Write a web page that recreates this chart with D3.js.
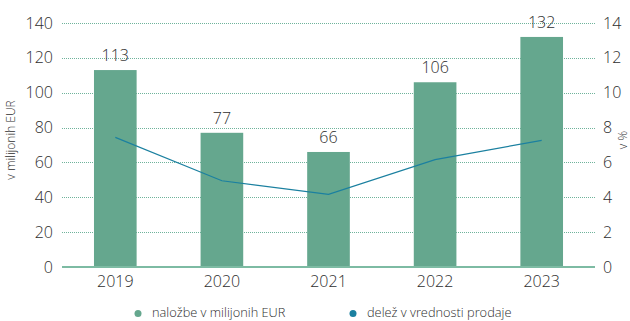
<!DOCTYPE html>
<html>
<head>
<meta charset="utf-8">
<script src="https://cdn.jsdelivr.net/npm/d3@7"></script>
<style>
  html, body { margin: 0; padding: 0; background: #fff; }
  svg { display: block; font-family: "Open Sans", Lato, sans-serif; font-weight: 300; }
  svg text { font-family: "Open Sans", Lato, sans-serif; font-weight: 300; }
</style>
</head>
<body>
<svg id="chart" width="630" height="321"></svg>
<script>
// Investments (millions EUR) and share of sales value (%) by year
const years = ["2019", "2020", "2021", "2022", "2023"];
const investments = [113, 77, 66, 106, 132];
const sharePct = [7.44, 4.95, 4.17, 6.16, 7.27];
const leftTicks = [0, 20, 40, 60, 80, 100, 120, 140];
const rightTicks = [0, 2, 4, 6, 8, 10, 12, 14];
const legendLabels = ["naložbe v milijonih EUR", "delež v vrednosti prodaje"];
const axisTitles = ["v milijonih EUR", "v %"];

const barColor = "#65a78e";
const lineColor = "#1b80a0";
const gridColor = "#6fb39b";
const textColor = "#2e2e2e";

const svg = d3.select("#chart");
const m = { left: 62, right: 595, top: 23, bottom: 267 };

const x = d3.scaleBand().domain(years).range([m.left, m.right]).paddingInner(0.6).paddingOuter(0.3);
const yL = d3.scaleLinear().domain([0, 140]).range([m.bottom, m.top]);
const yR = d3.scaleLinear().domain([0, 14]).range([m.bottom, m.top]);

// dotted gridlines
svg.append("g").selectAll("line")
  .data(leftTicks.filter(d => d > 0))
  .join("line")
  .attr("x1", m.left).attr("x2", m.right)
  .attr("y1", d => Math.round(yL(d)) + 0.5).attr("y2", d => Math.round(yL(d)) + 0.5)
  .attr("stroke", gridColor).attr("stroke-width", 1)
  .attr("stroke-dasharray", "1,1");

// left axis
const axL = svg.append("g").attr("transform", `translate(${m.left},0)`)
  .call(d3.axisLeft(yL).tickValues(leftTicks).tickSize(0).tickPadding(9));
axL.select(".domain").remove();
axL.selectAll("text").attr("font-size", 16).attr("fill", textColor).attr("font-family", null);

// right axis
const axR = svg.append("g").attr("transform", `translate(${m.right},0)`)
  .call(d3.axisRight(yR).tickValues(rightTicks).tickSize(0).tickPadding(8));
axR.select(".domain").remove();
axR.selectAll("text").attr("font-size", 16).attr("fill", textColor).attr("font-family", null);

// bars
svg.append("g").selectAll("rect")
  .data(years)
  .join("rect")
  .attr("x", d => x(d))
  .attr("width", x.bandwidth())
  .attr("y", (d, i) => yL(investments[i]))
  .attr("height", (d, i) => yL(0) - yL(investments[i]))
  .attr("fill", barColor);

// bar value labels
svg.append("g").selectAll("text")
  .data(years)
  .join("text")
  .attr("x", d => x(d) + x.bandwidth() / 2)
  .attr("y", (d, i) => yL(investments[i]) - 9)
  .attr("text-anchor", "middle")
  .attr("font-size", 16)
  .attr("fill", textColor)
  .text((d, i) => investments[i]);

// baseline
svg.append("line")
  .attr("x1", m.left).attr("x2", m.right)
  .attr("y1", yL(0)).attr("y2", yL(0))
  .attr("stroke", "#7dbba3").attr("stroke-width", 2);

// x axis labels
const axX = svg.append("g").attr("transform", `translate(0,${m.bottom})`)
  .call(d3.axisBottom(x).tickSize(0).tickPadding(9));
axX.select(".domain").remove();
axX.selectAll("text").attr("font-size", 16).attr("fill", textColor).attr("font-family", null);

// share line
const line = d3.line()
  .x((d, i) => x(years[i]) + x.bandwidth() / 2)
  .y(d => yR(d));
svg.append("path")
  .datum(sharePct)
  .attr("d", line)
  .attr("fill", "none")
  .attr("stroke", lineColor)
  .attr("stroke-width", 1.2);

// axis titles
svg.append("text")
  .attr("transform", `translate(15,140) rotate(-90)`)
  .attr("text-anchor", "middle")
  .attr("font-size", 12)
  .attr("fill", textColor)
  .text(axisTitles[0]);
svg.append("text")
  .attr("transform", `translate(627,140) rotate(-90)`)
  .attr("text-anchor", "middle")
  .attr("font-size", 12)
  .attr("fill", textColor)
  .text(axisTitles[1]);

// legend
const legend = svg.append("g");
const legendPos = [138, 353];
const legendColors = [barColor, lineColor];
legendLabels.forEach((lab, i) => {
  legend.append("circle")
    .attr("cx", legendPos[i]).attr("cy", 313.5)
    .attr("r", 3.5).attr("fill", legendColors[i]);
  legend.append("text")
    .attr("x", legendPos[i] + 14).attr("y", 317)
    .attr("font-size", 12.8)
    .attr("fill", textColor)
    .text(lab);
});
</script>
</body>
</html>
